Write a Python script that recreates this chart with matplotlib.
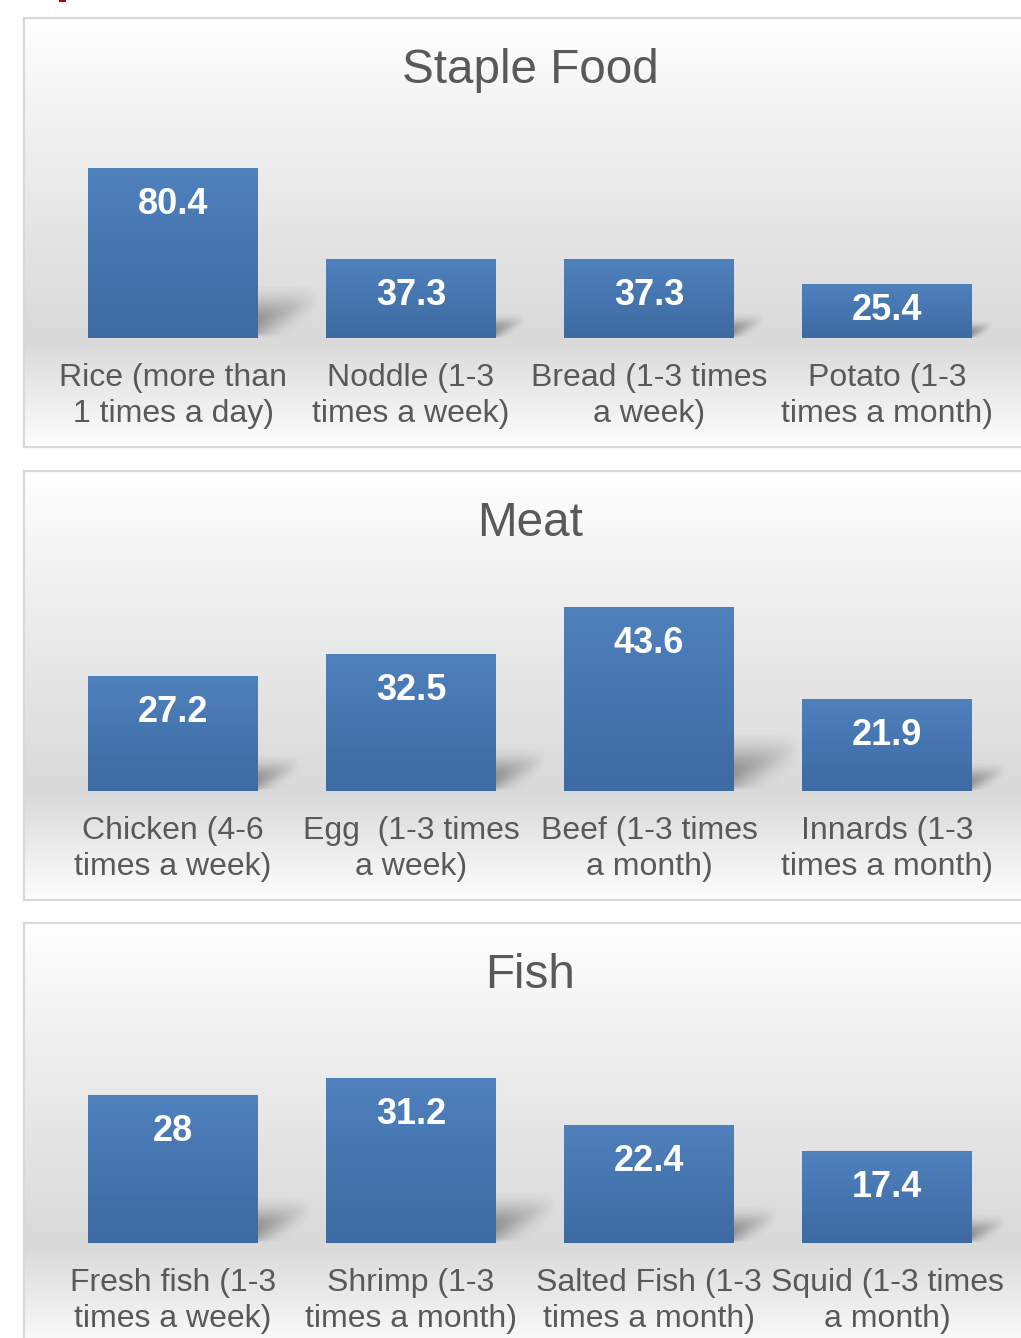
import numpy as np
import matplotlib.pyplot as plt
from matplotlib.patches import Rectangle
from matplotlib.colors import to_rgb

plt.rcParams['font.family'] = ['Liberation Sans', 'DejaVu Sans']

W, H = 1021, 1338

titles = ["Staple Food", "Meat", "Fish"]

staple_labels = ["Rice (more than\n1 times a day)", "Noddle (1-3\ntimes a week)",
                 "Bread (1-3 times\na week)", "Potato (1-3\ntimes a month)"]
staple_values = [80.4, 37.3, 37.3, 25.4]

meat_labels = ["Chicken (4-6\ntimes a week)", "Egg  (1-3 times\na week)",
               "Beef (1-3 times\na month)", "Innards (1-3\ntimes a month)"]
meat_values = [27.2, 32.5, 43.6, 21.9]

fish_labels = ["Fresh fish (1-3\ntimes a week)", "Shrimp (1-3\ntimes a month)",
               "Salted Fish (1-3\ntimes a month)", "Squid (1-3 times\na month)"]
fish_values = [28, 31.2, 22.4, 17.4]

y_max = [100, 50, 40]

panel_tops = [18, 471, 923]
PANEL_H = 429
TEXT = '#595959'
PT = 100 / 72  # pixels per point


def fx(px):
    return px / W


def fy(px):
    # pixel row from top -> figure fraction from bottom
    return 1 - px / H


def gradient(stops, n=256):
    pos = np.linspace(0, 1, n)
    cols = np.array([to_rgb(c) for _, c in stops])
    ps = [p for p, _ in stops]
    out = np.zeros((n, 3))
    for k in range(3):
        out[:, k] = np.interp(pos, ps, cols[:, k])
    return out


fig = plt.figure(figsize=(W / 100, H / 100), dpi=100)

# small red mark at the top edge
fig.add_artist(Rectangle((fx(59), fy(2)), fx(7), 2 / H, transform=fig.transFigure,
                         facecolor='#c00000', edgecolor='none'))


def draw_panel(top, title, labels, values, ymax):
    # background panel with vertical gradient
    bg = fig.add_axes([fx(24), fy(top + PANEL_H), fx(W - 24 + 20), PANEL_H / H])
    g = gradient([(0, '#ffffff'), (0.25, '#f1f1f1'), (0.75, '#d9d9d9'), (1.0, '#fdfdfd')])
    bg.imshow(g[:, None, :], aspect='auto', extent=[0, 1, 0, 1], interpolation='bilinear')
    bg.set_xticks([])
    bg.set_yticks([])
    for sp in bg.spines.values():
        sp.set_color('#d9d9d9')
        sp.set_linewidth(1.6)
    bg.set_zorder(0)

    fig.text(fx(530), fy(top + 65), title, ha='center', va='baseline',
             fontsize=34.3, color=TEXT)

    ax = fig.add_axes([fx(54), fy(top + 320), fx(952), 211 / H])
    ax.set_zorder(1)
    ax.patch.set_alpha(0)
    x = np.arange(len(values))
    bars = ax.bar(x, values, width=0.714, color='#4a7ab5', zorder=2)

    bar_grad = gradient([(0, '#3c6aa2'), (1, '#4f81bd')])
    px_per_unit = 211 / ymax
    for patch, v in zip(bars.patches, values):
        x0, w, h = patch.get_x(), patch.get_width(), patch.get_height()
        im = ax.imshow(bar_grad[:, None, :], aspect='auto', origin='lower',
                       extent=[x0, x0 + w, 0, h], interpolation='bilinear', zorder=2)
        im.set_clip_path(patch)

        # soft shadow cast to the right of the bar
        hpx = h * px_per_unit
        L = 0.36 * hpx / 238
        Hs = 0.30 * h
        u = np.linspace(0, 1, 80)[None, :]
        s = np.linspace(0, 1, 80)[:, None]
        c = 0.36 + 0.42 * u
        wd = 0.38 * (1 - 0.5 * u)
        a = 0.32 * (1 - u) ** 1.0 * np.exp(-((s - c) / wd) ** 2)
        a = a * np.clip(s / 0.08, 0, 1)
        rgba = np.zeros((80, 80, 4))
        rgba[..., 3] = a
        ax.imshow(rgba, aspect='auto', origin='lower',
                  extent=[x0 + w, x0 + w + L, 0, Hs], interpolation='bilinear', zorder=1)

        # label sits near the top, but stays inside short bars
        off_px = min(46, hpx - 18.5)
        ax.annotate(f"{v:g}", (patch.get_x() + w / 2, h), xytext=(0, -off_px / PT),
                    textcoords='offset points', ha='center', va='baseline',
                    fontsize=26, fontweight='bold', color='white', zorder=3)

    ax.set_xlim(-0.5, len(values) - 0.5)
    ax.set_ylim(0, ymax)
    ax.set_xticks(x, labels)
    ax.tick_params(axis='x', length=0, pad=18, labelsize=23, labelcolor=TEXT)
    for t in ax.get_xticklabels():
        t.set_linespacing(1.28)
    ax.set_yticks([])
    for sp in ax.spines.values():
        sp.set_visible(False)


draw_panel(panel_tops[0], titles[0], staple_labels, staple_values, y_max[0])
draw_panel(panel_tops[1], titles[1], meat_labels, meat_values, y_max[1])
draw_panel(panel_tops[2], titles[2], fish_labels, fish_values, y_max[2])

fig.savefig('out.png', dpi=100)
